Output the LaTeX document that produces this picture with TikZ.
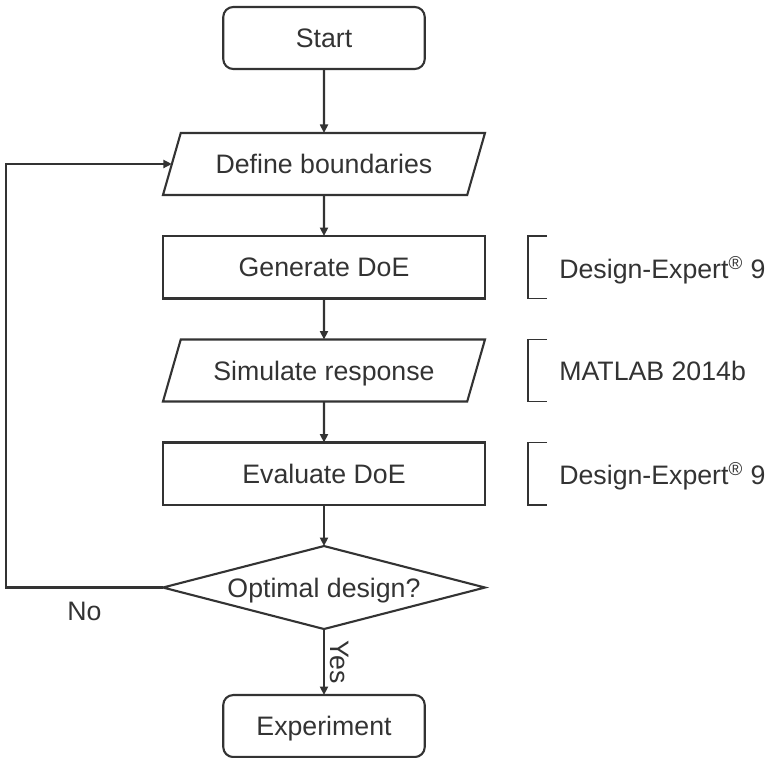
\documentclass[tikz,border=0pt]{standalone}
\usepackage{fontspec}
\setmainfont{Liberation Sans}
\usetikzlibrary{positioning,shapes.geometric,arrows.meta}
\definecolor{ink}{HTML}{333333}

\begin{document}
\begin{tikzpicture}[node distance=0.82cm,
    every node/.style={font=\fontsize{15.2}{18}\selectfont, text=ink, text depth=0pt},
    box/.style={draw=ink, line width=1.2pt, minimum width=6.44cm, minimum height=1.25cm, inner sep=0, outer sep=0},
    term/.style={box, rounded corners=0.2cm, minimum width=4.03cm, minimum height=1.24cm},
    io/.style={box, trapezium, trapezium left angle=74, trapezium right angle=106, trapezium stretches body=true, text height=0.38cm, inner ysep=0.43cm, minimum height=1.24cm},
    decision/.style={box, diamond, aspect=3.9, minimum height=1.66cm},
    tool/.style={inner sep=0, anchor=west},
    flow/.style={draw=ink, line width=1.2pt, -{Triangle[length=1.7mm,width=1.6mm]}},
    bracket/.style={draw=ink, line width=1.1pt}] %
  \useasboundingbox (-6.48,0.76) rectangle (8.90,-14.40);
  \node[term] (start) {Start} ; %
  \node[io, below=1.28cm of start] (define) {Define boundaries} ;
  \node[box, below=of define] (gen) {Generate DoE} ;
  \node[io, below=of gen] (sim) {Simulate response} ;
  \node[box, below=of sim] (eval) {Evaluate DoE} ;
  \node[decision, below=of eval] (opt) {Optimal design?} ;
  \node[term, below=1.32cm of opt] (exp) {Experiment} ;
  \coordinate[left=3.14cm of opt.west] (back) ;
  % software used per step
  \node[tool, right=1.48cm of gen] (genTool) {Design-Expert\textsuperscript{\textregistered}~9} ;
  \node[tool] (simTool) at (genTool.west |- sim) {MATLAB 2014b} ;
  \node[tool] (evalTool) at (genTool.west |- eval) {Design-Expert\textsuperscript{\textregistered}~9} ;
  \draw[bracket] (genTool.west |- gen.north) ++(-0.24,0) -- ++(-0.38,0) -- ++(0,-1.25) -- ++(0.38,0) ;
  \draw[bracket] (simTool.west |- sim.north) ++(-0.24,0) -- ++(-0.38,0) -- ++(0,-1.24) -- ++(0.38,0) ;
  \draw[bracket] (evalTool.west |- eval.north) ++(-0.24,0) -- ++(-0.38,0) -- ++(0,-1.25) -- ++(0.38,0) ;
  % flow
  \draw[flow] (start)--(define) ;
  \draw[flow] (define)--(gen) ;
  \draw[flow] (gen)--(sim) ;
  \draw[flow] (sim)--(eval) ;
  \draw[flow] (eval)--(opt) ;
  \draw[flow] (opt)-- node[midway, anchor=south, rotate=-90] {Yes} (exp) ;
  \draw[flow] (opt.west)-- node[midway, below=0.15cm] {No} (back) |- (define.west) ;
\end{tikzpicture}
\end{document}
